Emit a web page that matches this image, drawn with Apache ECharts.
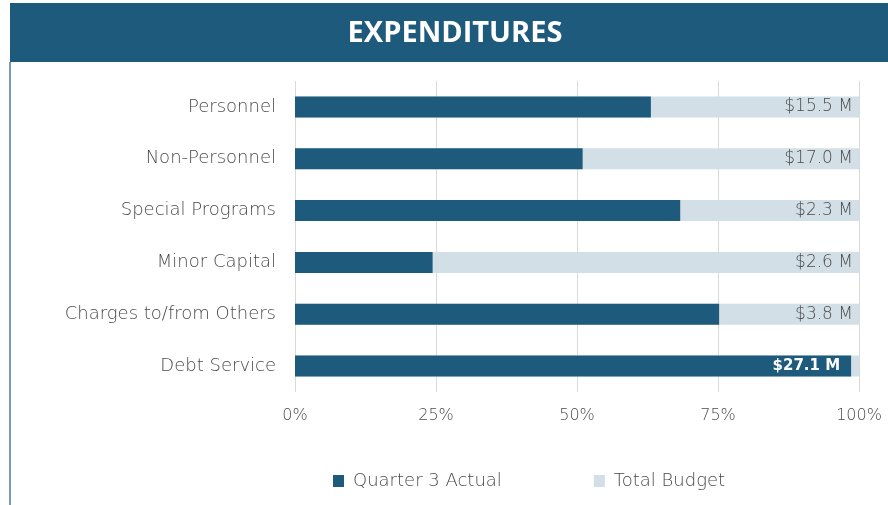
<html>
<head>
<meta charset="UTF-8">
<title>Expenditures</title>
<style type="text/css">
  html, body { margin: 0; padding: 0; background: #fff; }
  #main { width: 888px; height: 505px; }
</style>
</head>
<body>
<div id="main"></div>
<script src="https://cdn.jsdelivr.net/npm/echarts@6/dist/echarts.min.js"></script>
<script type="text/javascript">
var categories = ['Personnel', 'Non-Personnel', 'Special Programs', 'Minor Capital', 'Charges to/from Others', 'Debt Service'];
var actualPct = [63.1, 51.0, 68.3, 24.4, 75.2, 98.6];
var budgetPct = [100, 100, 100, 100, 100, 100];
var budgetMillions = [15.5, 17.0, 2.3, 2.6, 3.8, 27.1];
var tickLabels = ['0%', '25%', '50%', '75%', '100%'];

var dark = '#1e5a7b';
var light = '#d2dfe7';
var grey = '#4a4a4a';
var font = 'DejaVu Sans';
var weight = 200;

function money(i) {
  return '$' + budgetMillions[i].toFixed(1) + ' M';
}

// Debt Service: its label sits on the dark bar, white and bold
var actualData = actualPct.map(function (v, i) {
  var item = { value: v };
  if (i === 5) {
    item.label = {
      show: true, position: 'insideRight', distance: 11,
      color: '#fff', fontWeight: 'bold', fontSize: 15, fontFamily: font,
      formatter: function (p) { return money(p.dataIndex); }
    };
  }
  return item;
});
var budgetData = budgetPct.map(function (v, i) {
  var item = { value: v };
  if (i === 5) item.label = { show: false };
  return item;
});

var option = {
  animation: false,
  textStyle: { fontFamily: font },
  graphic: [
    { type: 'rect', z: 0, shape: { x: 10, y: 3, width: 878, height: 59 }, style: { fill: dark } },
    { type: 'line', z: 0, shape: { x1: 10, y1: 62, x2: 10, y2: 505 }, style: { stroke: dark, lineWidth: 1.2 } },
    { type: 'text', z: 1, x: 455, y: 34, style: { text: 'EXPENDITURES', fill: '#fff', font: 'bold 29px "Open Sans"', align: 'center', verticalAlign: 'middle' } }
  ],
  legend: {
    data: ['Quarter 3 Actual', 'Total Budget'],
    left: 328,
    top: 467,
    icon: 'rect',
    itemWidth: 11,
    itemHeight: 12,
    itemGap: 92,
    textStyle: { color: grey, fontSize: 18, fontFamily: font, fontWeight: weight, padding: [0, 0, 0, 4] }
  },
  grid: { left: 295, right: 29, top: 81, height: 311, containLabel: false },
  xAxis: {
    type: 'value',
    min: 0,
    max: 100,
    interval: 25,
    axisLine: { show: false },
    axisTick: { show: false },
    splitLine: { lineStyle: { color: '#d9d9d9', width: 1 } },
    axisLabel: {
      color: grey, fontSize: 16, fontWeight: weight, margin: 16,
      formatter: function (v) { return tickLabels[v / 25]; }
    }
  },
  yAxis: {
    type: 'category',
    data: categories,
    inverse: true,
    axisLine: { show: false },
    axisTick: { show: false },
    axisLabel: { color: grey, fontSize: 18, fontWeight: weight, margin: 19 }
  },
  series: [
    {
      name: 'Quarter 3 Actual',
      type: 'bar',
      data: actualData,
      barWidth: 21,
      z: 3,
      itemStyle: { color: dark }
    },
    {
      name: 'Total Budget',
      type: 'bar',
      data: budgetData,
      barWidth: 21,
      barGap: '-100%',
      z: 2,
      itemStyle: { color: light },
      label: {
        show: true,
        position: 'insideRight',
        distance: 6,
        color: grey,
        fontSize: 17,
        fontWeight: weight,
        formatter: function (p) { return money(p.dataIndex); }
      }
    }
  ]
};

var myChart = echarts.init(document.getElementById('main'));
myChart.setOption(option);
</script>
</body>
</html>
